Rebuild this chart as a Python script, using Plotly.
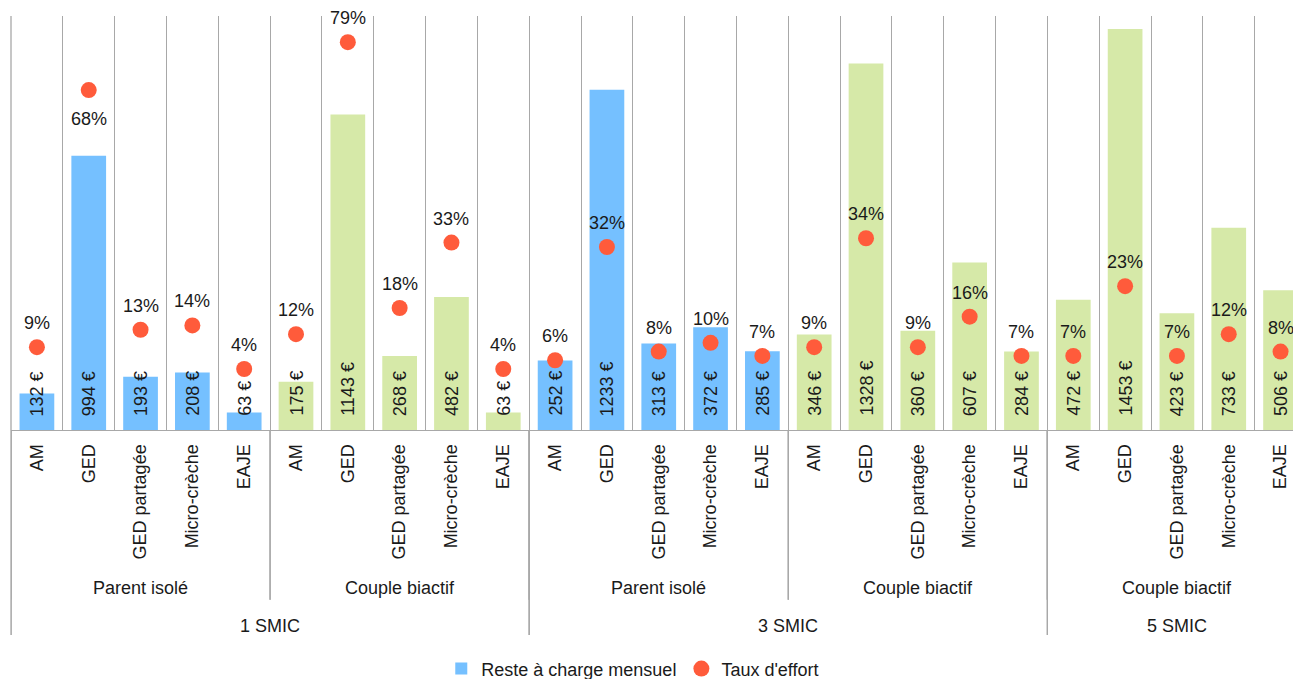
import plotly.graph_objects as go

# Childcare cost per household profile
revenus = ["1 SMIC"] * 10 + ["3 SMIC"] * 10 + ["5 SMIC"] * 5
familles = (["Parent isolé"] * 5 + ["Couple biactif"] * 5
            + ["Parent isolé"] * 5 + ["Couple biactif"] * 5
            + ["Couple biactif"] * 5)
modes = ["AM", "GED", "GED partagée", "Micro-crèche", "EAJE"] * 5

reste_a_charge = [132, 994, 193, 208, 63,
                  175, 1143, 268, 482, 63,
                  252, 1233, 313, 372, 285,
                  346, 1328, 360, 607, 284,
                  472, 1453, 423, 733, 506]
taux_effort = [9, 68, 13, 14, 4,
               12, 79, 18, 33, 4,
               6, 32, 8, 10, 7,
               9, 34, 9, 16, 7,
               7, 23, 7, 12, 8]

BLUE = "#75C0FF"
GREEN = "#D6E9A8"
RED = "#FF5B3B"
GRID = "#A8A8A8"
TXT = "#1a1a1a"
FONT = "Liberation Sans, Arial, sans-serif"
FS = 18

n = len(modes)
xs = list(range(n))
bar_colors = [BLUE if f == "Parent isolé" else GREEN for f in familles]

fig = go.Figure()
fig.add_trace(go.Bar(
    x=xs, y=reste_a_charge, width=0.67, name="Reste à charge mensuel",
    marker=dict(color=bar_colors, line=dict(width=0)),
))
fig.add_trace(go.Scatter(
    x=xs, y=taux_effort, yaxis="y2", name="Taux d'effort",
    mode="markers", marker=dict(size=16, color=RED), cliponaxis=False,
))

annotations = []
# value labels inside the bars, reading upwards from the base
for x, v in zip(xs, reste_a_charge):
    annotations.append(dict(
        x=x, y=0, xref="x", yref="y", text=f"{v} €", textangle=-90,
        showarrow=False, yanchor="bottom", xanchor="center", yshift=12,
        font=dict(size=FS, color=TXT, family=FONT),
    ))
# percentage labels next to the dots (the 68 % one sits below its dot)
for x, v in zip(xs, taux_effort):
    annotations.append(dict(
        x=x, y=v, xref="x", yref="y2", text=f"{v}%",
        showarrow=False, yanchor="middle", xanchor="center",
        yshift=-29 if v == 68 else 24,
        font=dict(size=FS, color=TXT, family=FONT),
    ))

shapes = []
# consecutive runs of identical keys -> (first index, last index, key)
def runs(keys):
    out = []
    start = 0
    for i in range(1, len(keys) + 1):
        if i == len(keys) or keys[i] != keys[start]:
            out.append((start, i - 1, keys[start]))
            start = i
    return out

fam_runs = runs(list(zip(revenus, familles)))
inc_runs = runs(revenus)

FAM_Y = -0.382
INC_Y = -0.473
for a, b, key in fam_runs:
    annotations.append(dict(
        x=(a + b) / 2, y=FAM_Y, xref="x", yref="paper", text=key[1],
        showarrow=False, yanchor="middle", font=dict(size=FS, color=TXT, family=FONT),
    ))
for a, b, key in inc_runs:
    annotations.append(dict(
        x=(a + b) / 2, y=INC_Y, xref="x", yref="paper", text=key,
        showarrow=False, yanchor="middle", font=dict(size=FS, color=TXT, family=FONT),
    ))

for a, b, key in fam_runs:
    for xb in (a - 0.5, b + 0.5):
        shapes.append(dict(type="line", xref="x", yref="paper", x0=xb, x1=xb,
                           y0=0, y1=-0.41, line=dict(color=GRID, width=1.3)))
for a, b, key in inc_runs:
    for xb in (a - 0.5, b + 0.5):
        shapes.append(dict(type="line", xref="x", yref="paper", x0=xb, x1=xb,
                           y0=0, y1=-0.495, line=dict(color=GRID, width=1.3)))
shapes.append(dict(type="line", xref="paper", yref="paper", x0=0, x1=0,
                   y0=-0.495, y1=1, line=dict(color=GRID, width=1.3)))

fig.update_layout(
    width=1293, height=679,
    margin=dict(l=11, r=0, t=16, b=249, autoexpand=False),
    paper_bgcolor="white", plot_bgcolor="white",
    font=dict(family=FONT, size=FS, color=TXT),
    bargap=0.33,
    xaxis=dict(
        range=[-0.5, 24.24], tickmode="array", tickvals=xs, ticktext=modes,
        tickangle=-90, tickfont=dict(size=FS, color=TXT, family=FONT),
        showgrid=False, zeroline=False, showline=True, linecolor=GRID, linewidth=1.3,
        ticks="", ticklabelstandoff=6, automargin=False,
        minor=dict(tick0=0.5, dtick=1, showgrid=True, gridcolor=GRID, gridwidth=1.3, ticks=""),
    ),
    yaxis=dict(range=[0, 1500], visible=False, showgrid=False, zeroline=False,
               automargin=False),
    yaxis2=dict(range=[-10, 85], overlaying="y", side="right", visible=False,
                showgrid=False, zeroline=False, automargin=False),
    legend=dict(orientation="h", x=0.485, xanchor="center", y=-0.577, yanchor="middle",
                font=dict(size=FS, color=TXT, family=FONT), itemwidth=30,
                traceorder="normal"),
    showlegend=True,
    annotations=annotations,
    shapes=shapes,
)

fig.write_html("out.html")
